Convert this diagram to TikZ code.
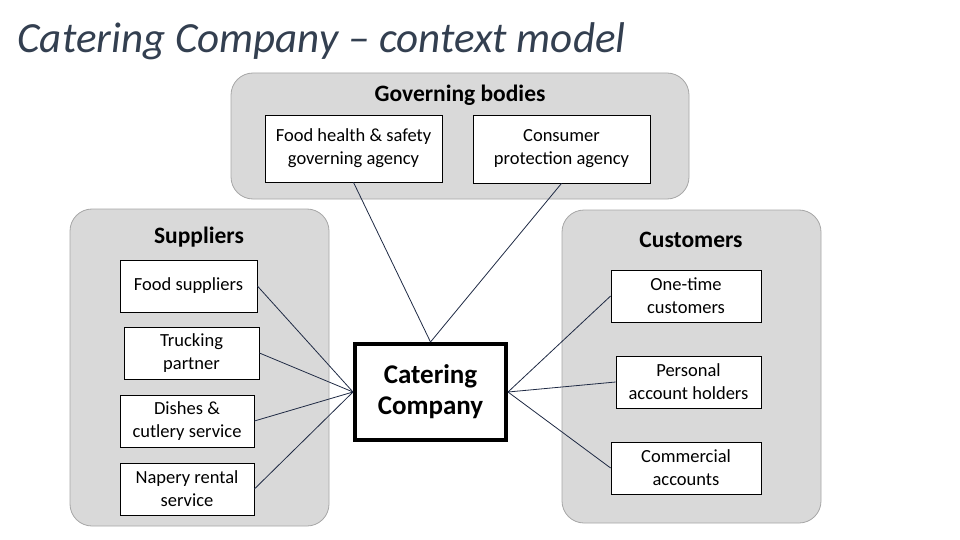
\documentclass[tikz,border=0pt]{standalone}
\usepackage{fontspec}
\setmainfont{Carlito}
\definecolor{grpfill}{HTML}{D9D9D9}
\definecolor{grpline}{HTML}{A6A6A6}
\definecolor{conn}{HTML}{1F2A44}
\definecolor{titlecol}{HTML}{333F50}
\begin{document}
\begin{tikzpicture}[x=1pt,y=-1pt,
  group/.style={draw=grpline, fill=grpfill, rounded corners=22pt, line width=0.8pt, inner sep=0pt},
  grptitle/.style={font=\fontsize{23.5}{26}\selectfont\bfseries, text=black},
  box/.style={draw=black, fill=white, line width=0.8pt, align=center, inner sep=2pt,
    font=\fontsize{18.5}{23}\selectfont},
  mainbox/.style={draw=black, fill=white, line width=4pt, align=center,
    font=\fontsize{27}{31}\selectfont\bfseries, minimum width=151pt, minimum height=96pt},
  link/.style={draw=conn, line width=0.8pt}
]
\useasboundingbox (0,0) rectangle (960,540);
% title
\node[anchor=west, text=titlecol, font=\fontsize{43}{46}\selectfont\itshape] (title) at (14,41) {Catering Company – context model};
% groups
\node[group, minimum width=458pt, minimum height=126pt] (gov) at (460,136) {};
\node[group, minimum width=259pt, minimum height=317pt] (sup) at (199.5,367.5) {};
\node[group, minimum width=259pt, minimum height=313pt] (cus) at (691.5,366.5) {};
\node[grptitle] (govt) at (460,95) {Governing bodies};
\node[grptitle] (supt) at (199,237) {Suppliers};
\node[grptitle] (cust) at (691,240) {Customers};
% boxes
\node[box, minimum width=177pt, minimum height=67pt] (fhs) at (353.5,148.5) {Food health \& safety\\governing agency};
\node[box, minimum width=177pt, minimum height=68pt] (cp) at (561.5,149) {Consumer\\protection agency};
\node[box, minimum width=137pt, minimum height=52pt] (fs) at (188.5,286) {Food suppliers};
\node[box, minimum width=135pt, minimum height=52pt] (tp) at (191.5,353) {Trucking\\partner};
\node[box, minimum width=134pt, minimum height=52pt] (dc) at (187,421) {Dishes \&\\cutlery service};
\node[box, minimum width=134pt, minimum height=52pt] (nr) at (187,489) {Napery rental\\service};
\node[box, minimum width=150pt, minimum height=52pt] (ot) at (686,296) {One-time\\customers};
\node[box, minimum width=145pt, minimum height=52pt] (pa) at (688.5,382) {Personal\\account holders};
\node[box, minimum width=150pt, minimum height=52pt] (ca) at (686,468) {Commercial\\accounts};
\node[mainbox] (cc) at (430.5,392) {Catering\\Company};
% connectors
\draw[link] (fs.east) -- (cc.west);
\draw[link] (tp.east) -- (cc.west);
\draw[link] (dc.east) -- (cc.west);
\draw[link] (nr.east) -- (cc.west);
\draw[link] (fhs.south) -- (cc.north);
\draw[link] (cp.south) -- (cc.north);
\draw[link] (ot.west) -- (cc.east);
\draw[link] (pa.west) -- (cc.east);
\draw[link] (ca.west) -- (cc.east);
\end{tikzpicture}
\end{document}
